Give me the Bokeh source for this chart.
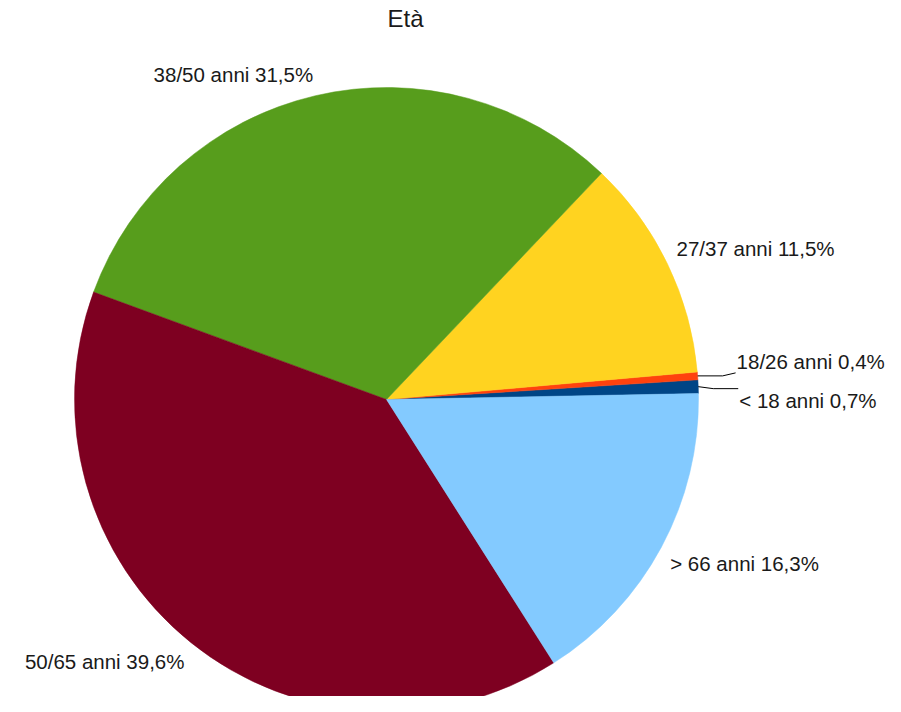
import numpy as np
from bokeh.plotting import figure
from bokeh.models import Range1d, ColumnDataSource
from bokeh.core.properties import value
from bokeh.embed import file_html
from bokeh.resources import INLINE

# ---- data ----
categories = ["< 18 anni", "18/26 anni", "27/37 anni", "38/50 anni", "50/65 anni", "> 66 anni"]
percent = [0.7, 0.4, 11.5, 31.5, 39.6, 16.3]
pct_labels = ["0,7%", "0,4%", "11,5%", "31,5%", "39,6%", "16,3%"]
colors = ["#004586", "#ff420e", "#ffd320", "#579d1c", "#7e0021", "#83caff"]
chart_title = "Età"

# ---- layout (data units == screen pixels; y = 712 - image y) ----
W, H = 885, 696
cx, cy, R = 386.0, 313.0, 312.0
start_deg = 1.1
FONT = "Liberation Sans"

p = figure(width=W, height=H, x_range=Range1d(0, W), y_range=Range1d(712 - H, 712),
           output_backend="svg", toolbar_location=None, min_border=0)
p.axis.visible = False
p.grid.visible = False
p.outline_line_color = None
p.background_fill_color = "white"

frac = np.array(percent) / sum(percent)
ends = np.radians(start_deg) + np.cumsum(frac) * 2 * np.pi
starts = ends - frac * 2 * np.pi
src = ColumnDataSource(dict(start=starts, end=ends, color=colors, cat=categories))
p.wedge(x=cx, y=cy, radius=R, start_angle="start", end_angle="end", direction="anticlock",
        fill_color="color", line_color="color", line_width=0.5, source=src)

# labels
label_text = [f"{c} {v}" for c, v in zip(categories, pct_labels)]
mids = (starts + ends) / 2
# small slices use leader lines: (elbow dx, elbow dy, end dx, end dy, baseline)
leaders = {0: (15, -2, 40, -2, "top"), 1: (25, 0, 38, 3, "bottom")}
for i, (txt, m) in enumerate(zip(label_text, mids)):
    if i in leaders:
        ex, ey = cx + R * np.cos(m), cy + R * np.sin(m)
        bx, by, tx, ty, base = leaders[i]
        p.line([ex, ex + bx, ex + tx], [ey, ey + by, ey + ty], line_color="black", line_width=1)
        p.text(x=[ex + tx + 1], y=[ty + ey], text=[txt], text_align="left", text_baseline=base,
               text_font=value(FONT), text_font_size=value("20.5px"), text_color="#1a1a1a")
    else:
        ax, ay = cx + (R + 10) * np.cos(m), cy + (R + 10) * np.sin(m)
        align = "left" if np.cos(m) > 0 else "right"
        base = "bottom" if np.sin(m) > 0 else "top"
        p.text(x=[ax], y=[ay], text=[txt], text_align=align, text_baseline=base,
               text_font=value(FONT), text_font_size=value("20.5px"), text_color="#1a1a1a")

p.text(x=[405], y=[712 - 18], text=[chart_title], text_align="center", text_baseline="middle",
       text_font=value(FONT), text_font_size=value("24px"), text_color="#1a1a1a")

open("out.html", "w").write(file_html(p, INLINE))
